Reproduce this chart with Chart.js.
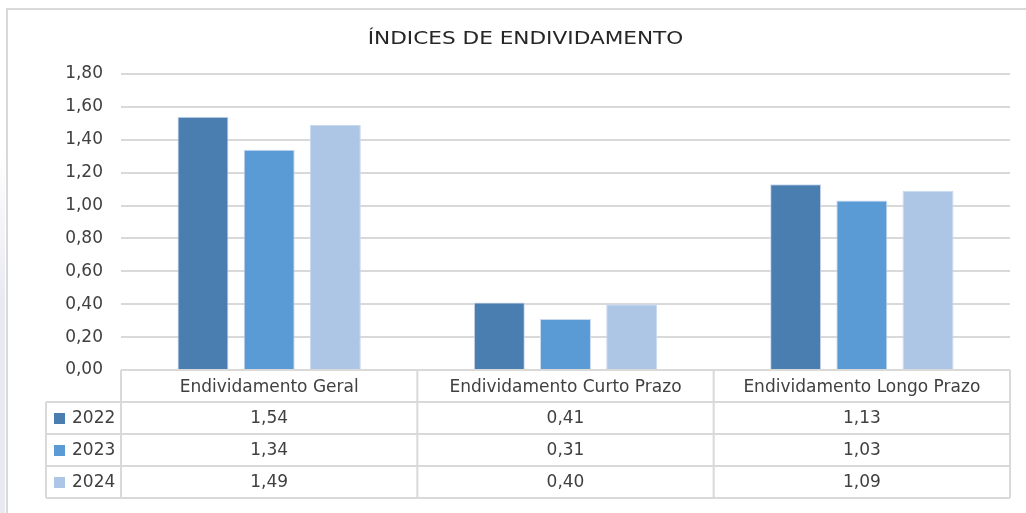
<!DOCTYPE html>
<html>
<head>
<meta charset="utf-8">
<script src="https://cdn.jsdelivr.net/npm/chart.js@4/dist/chart.umd.min.js"></script>
<style>
html,body{margin:0;padding:0;background:#fff;overflow:hidden;width:1026px;height:513px;}
#wrap{position:absolute;left:0;top:0;width:1026px;height:513px;overflow:hidden;}
#strip{position:absolute;left:0;top:0;width:5px;height:513px;background:linear-gradient(#ffffff 0px,#ffffff 150px,#e9e9f2 300px,#e9e9f2 513px);}
#frame{position:absolute;left:6px;top:8px;width:1100px;height:600px;border-top:2px solid #d9d9d9;border-left:2px solid #d9d9d9;}
canvas{position:absolute;left:0;top:0;}
</style>
</head>
<body>
<div id="wrap">
<div id="strip"></div>
<div id="frame"></div>
<canvas id="c" width="1026" height="513"></canvas>
</div>
<script>
const categories = ["Endividamento Geral", "Endividamento Curto Prazo", "Endividamento Longo Prazo"];
const seriesNames = ["2022", "2023", "2024"];
const values2022 = [1.54, 0.41, 1.13];
const values2023 = [1.34, 0.31, 1.03];
const values2024 = [1.49, 0.40, 1.09];
const seriesColors = ["#4a7eb0", "#5b9bd5", "#adc6e6"];
const yTicks = [0, 0.2, 0.4, 0.6, 0.8, 1.0, 1.2, 1.4, 1.6, 1.8];
const titleText = "ÍNDICES DE ENDIVIDAMENTO";

const seriesValues = [values2022, values2023, values2024];
const fmt = v => v.toFixed(2).replace('.', ',');
const TEXT = "#404040";
const LINE = "#d9d9d9";
const FONT = "'DejaVu Sans', sans-serif";

const titleStretch = {
  id: 'titleStretch',
  afterLayout(chart) {
    const tb = chart.titleBlock;
    if (tb && !tb._stretched) {
      const orig = tb.draw;
      tb.draw = function () {
        const ctx = this.ctx;
        const cx = (this.left + this.right) / 2;
        ctx.save();
        ctx.translate(525.5, 0);
        ctx.scale(1.2, 1);
        ctx.translate(-cx, 0);
        orig.apply(this, arguments);
        ctx.restore();
      };
      tb._stretched = true;
    }
  }
};

const tablePlugin = {
  id: 'dataTable',
  afterDraw(chart) {
    const ctx = chart.ctx;
    const x = chart.scales.x;
    const area = chart.chartArea;
    const top = area.bottom;
    const rowH = 32;
    const legendLeft = 46;
    const n = categories.length;
    const catW = (x.getPixelForValue(1) - x.getPixelForValue(0));
    const bounds = [];
    for (let i = 0; i <= n; i++) bounds.push(x.getPixelForValue(0) - catW / 2 + i * catW);
    const rows = seriesNames.length;
    const bottom = top + rowH * (rows + 1);
    ctx.save();
    ctx.strokeStyle = LINE;
    ctx.lineWidth = 2;
    ctx.beginPath();
    ctx.moveTo(bounds[0], top); ctx.lineTo(bounds[n], top);
    for (let r = 1; r <= rows + 1; r++) {
      const yy = top + r * rowH;
      ctx.moveTo(legendLeft, yy); ctx.lineTo(bounds[n], yy);
    }
    for (let i = 0; i <= n; i++) {
      ctx.moveTo(bounds[i], top); ctx.lineTo(bounds[i], bottom);
    }
    ctx.moveTo(legendLeft, top + rowH); ctx.lineTo(legendLeft, bottom);
    ctx.stroke();
    ctx.font = "17px " + FONT;
    ctx.textBaseline = 'middle';
    for (let r = 0; r < rows; r++) {
      const cy = top + (r + 1) * rowH + rowH / 2;
      ctx.fillStyle = seriesColors[r];
      ctx.fillRect(54, cy - 5, 11, 11);
      ctx.fillStyle = TEXT;
      ctx.textAlign = 'left';
      ctx.fillText(seriesNames[r], 72, cy + 1);
      ctx.textAlign = 'center';
      for (let i = 0; i < n; i++) {
        ctx.fillText(fmt(seriesValues[r][i]), x.getPixelForValue(i), cy + 1);
      }
    }
    ctx.restore();
  }
};

new Chart(document.getElementById('c'), {
  type: 'bar',
  data: {
    labels: categories,
    datasets: seriesNames.map((name, i) => ({
      label: name,
      data: seriesValues[i],
      backgroundColor: seriesColors[i],
      borderColor: "#c9d8ee",
      borderWidth: 1,
      categoryPercentage: 0.67,
      barPercentage: 0.77
    }))
  },
  options: {
    responsive: false,
    animation: false,
    layout: { padding: { left: 0, right: 16, top: 0, bottom: 0 } },
    plugins: {
      legend: { display: false },
      tooltip: { enabled: false },
      title: {
        display: true,
        text: titleText,
        color: "#262626",
        font: { family: FONT, size: 18, weight: 'normal', lineHeight: 1.2 },
        padding: { top: 29, bottom: 23.4 }
      }
    },
    scales: {
      y: {
        min: 0, max: 1.8,
        afterBuildTicks(scale) { scale.ticks = yTicks.map(v => ({ value: v })); },
        afterFit(scale) { scale.width = 121; },
        border: { display: false },
        grid: { color: LINE, lineWidth: 2, drawTicks: false },
        ticks: {
          padding: 18,
          color: TEXT,
          font: { family: FONT, size: 17 },
          callback: v => fmt(v)
        }
      },
      x: {
        afterFit(scale) { scale.height = 143; },
        border: { display: false },
        grid: { display: false, drawTicks: false },
        ticks: {
          padding: 7,
          color: TEXT,
          font: { family: FONT, size: 17 },
          maxRotation: 0
        }
      }
    }
  },
  plugins: [titleStretch, tablePlugin]
});
</script>
</body>
</html>
